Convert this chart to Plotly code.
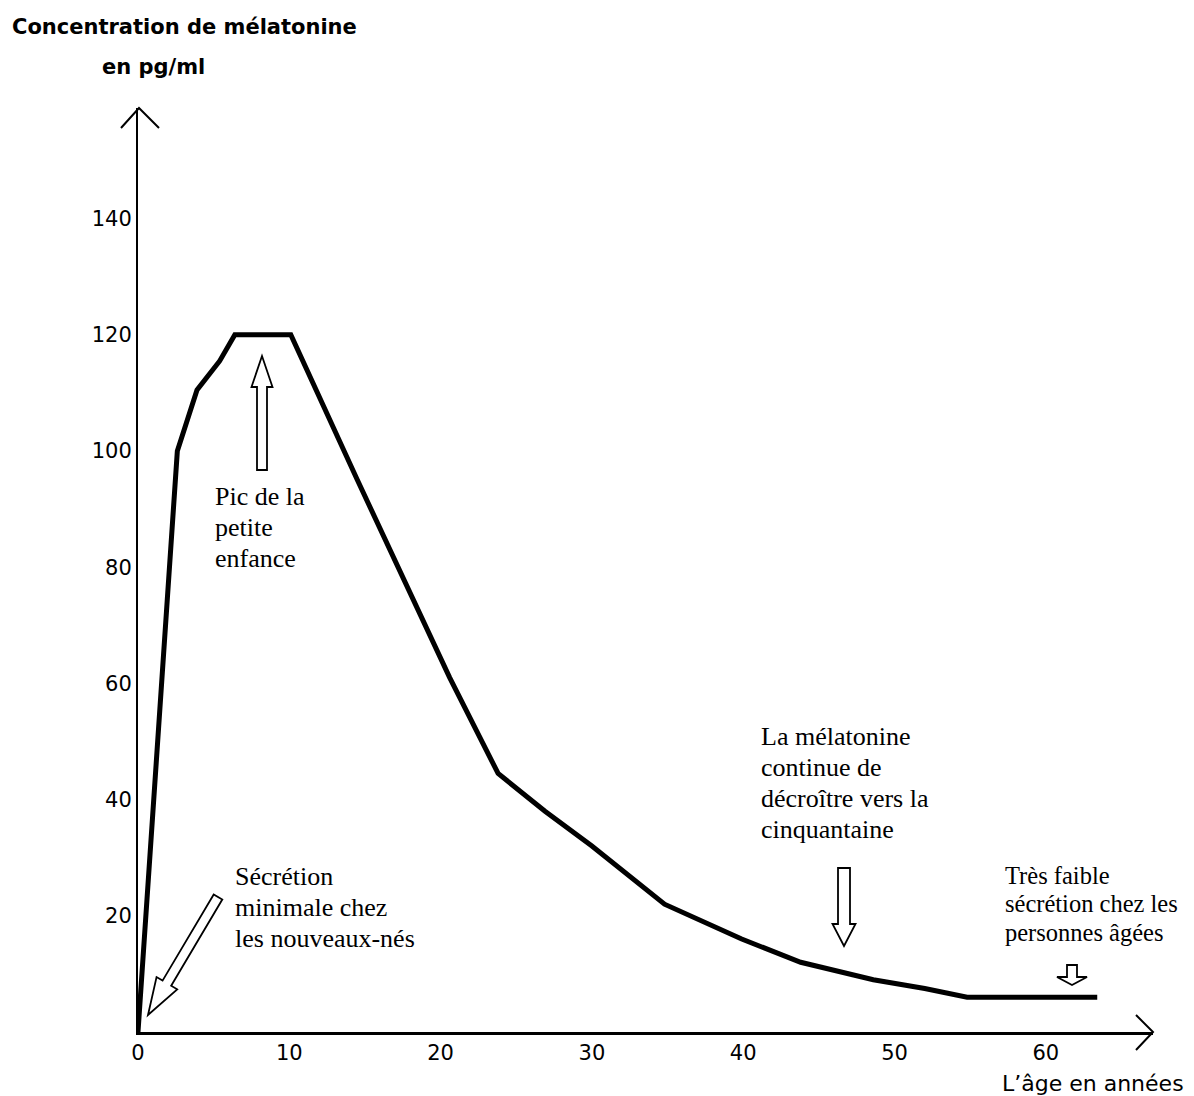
import math
import plotly.graph_objects as go

# ---------------- data ----------------
ages = [0, 2.6, 3.9, 5.4, 6.4, 10.1, 14.5, 20.6, 23.8, 26.9, 30.0, 34.8, 39.9, 43.8, 48.6, 52.0, 54.8, 63.4]
concentration = [0, 100, 110.5, 115.5, 120, 120, 95, 61, 44.5, 38, 32, 22, 16, 12, 9, 7.5, 6, 6]
x_ticks = [0, 10, 20, 30, 40, 50, 60]
y_ticks = [20, 40, 60, 80, 100, 120, 140]

y_title_lines = ["Concentration de mélatonine", "en pg/ml"]
x_title = "L’âge en années"
note_peak = ["Pic de la", "petite", "enfance"]
note_newborn = ["Sécrétion", "minimale chez", "les nouveaux-nés"]
note_fifty = ["La mélatonine", "continue de", "décroître vers la", "cinquantaine"]
note_elderly = ["Très faible", "sécrétion chez les", "personnes âgées"]

# ---------------- layout geometry (pixels, page coordinates) ----------------
OFF = 8  # default body margin of the html page
FIG_W, FIG_H = 1194 - OFF, 1096 - OFF
LEFT, RIGHT_PX, TOP, BOTTOM_PX = 138, 1153, 108, 1032   # page pixels
PW, PH = RIGHT_PX - LEFT, BOTTOM_PX - TOP
X_SCALE = 15.13   # px per year
Y_SCALE = 5.81    # px per pg/ml
X_MAX = PW / X_SCALE
Y_MAX = PH / Y_SCALE


def P(px, py):
    """page pixel -> paper coordinates"""
    return (px - LEFT) / PW, (BOTTOM_PX - py) / PH


def path_from_pixels(points, close=True):
    parts = []
    for i, (px, py) in enumerate(points):
        x, y = P(px, py)
        parts.append(("M" if i == 0 else "L") + f"{x:.5f},{y:.5f}")
    return " ".join(parts) + (" Z" if close else "")


def hollow_arrow(tail, tip, shaft_half, head_half, head_len):
    tx, ty = tail
    hx, hy = tip
    L = math.hypot(hx - tx, hy - ty)
    dx, dy = (hx - tx) / L, (hy - ty) / L
    nx, ny = -dy, dx
    bx, by = hx - dx * head_len, hy - dy * head_len
    pts = [
        (tx + nx * shaft_half, ty + ny * shaft_half),
        (bx + nx * shaft_half, by + ny * shaft_half),
        (bx + nx * head_half, by + ny * head_half),
        (hx, hy),
        (bx - nx * head_half, by - ny * head_half),
        (bx - nx * shaft_half, by - ny * shaft_half),
        (tx - nx * shaft_half, ty - ny * shaft_half),
    ]
    return dict(type="path", xref="paper", yref="paper", path=path_from_pixels(pts),
                line=dict(color="black", width=1.8), fillcolor="white", layer="above")


fig = go.Figure()
fig.add_trace(go.Scatter(
    x=ages, y=concentration, mode="lines",
    line=dict(color="black", width=5), cliponaxis=False,
    showlegend=False, hoverinfo="skip",
))

shapes = [
    hollow_arrow((262, 470), (262, 356), 5, 10.5, 31),
    hollow_arrow((218, 897), (148, 1015), 5, 12, 37),
    hollow_arrow((844, 868), (844, 946), 6, 11.5, 22),
    hollow_arrow((1072, 965), (1072, 985), 5, 15, 8),
    # axis arrow heads (open chevrons)
    dict(type="path", xref="paper", yref="paper",
         path=path_from_pixels([(121, 128), (139, 108), (159, 128)], close=False),
         line=dict(color="black", width=2)),
    dict(type="path", xref="paper", yref="paper",
         path=path_from_pixels([(1136, 1015), (1153, 1032), (1136, 1050)], close=False),
         line=dict(color="black", width=2)),
]

annotations = []


def add_lines(lines, left_px, first_center_py, spacing, size, family, bold=False):
    for i, t in enumerate(lines):
        x, y = P(left_px, first_center_py + i * spacing)
        annotations.append(dict(
            text=f"<b>{t}</b>" if bold else t, x=x, y=y, xref="paper", yref="paper",
            xanchor="left", yanchor="middle", showarrow=False,
            font=dict(family=family, size=size, color="black"),
        ))


SERIF = "Liberation Serif, Times New Roman, serif"
SANS = "DejaVu Sans, Verdana, sans-serif"

add_lines(y_title_lines[:1], 10, 27, 0, 21, SANS, bold=True)
add_lines(y_title_lines[1:], 100, 67, 0, 21, SANS, bold=True)
add_lines([x_title], 1000, 1083, 0, 22, SANS)
add_lines(note_peak, 213, 496, 31, 26, SERIF)
add_lines(note_newborn, 233, 876, 31, 26, SERIF)
add_lines(note_fifty, 759, 736, 31, 26, SERIF)
add_lines(note_elderly, 1003, 875, 28.5, 24.5, SERIF)

fig.update_layout(
    width=FIG_W, height=FIG_H,
    margin=dict(l=LEFT - OFF, r=FIG_W - (RIGHT_PX - OFF), t=TOP - OFF,
                b=FIG_H - (BOTTOM_PX - OFF), pad=0),
    paper_bgcolor="white", plot_bgcolor="white",
    shapes=shapes, annotations=annotations,
    xaxis=dict(range=[0, X_MAX], tickvals=x_ticks, showgrid=False, zeroline=False,
               showline=True, linecolor="black", linewidth=2.5, ticks="",
               tickfont=dict(family=SANS, size=21, color="black"), fixedrange=True),
    yaxis=dict(range=[0, Y_MAX], tickvals=y_ticks, showgrid=False, zeroline=False,
               showline=True, linecolor="black", linewidth=2, ticks="",
               tickfont=dict(family=SANS, size=21, color="black"), fixedrange=True),
)

fig.write_html("out.html", config={"displayModeBar": False})
